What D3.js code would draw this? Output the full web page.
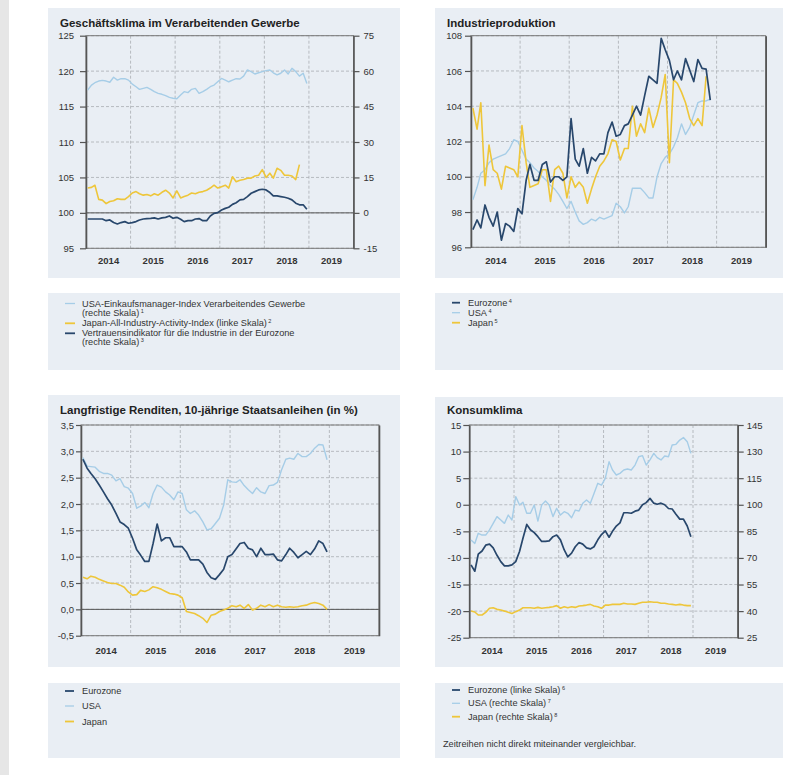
<!DOCTYPE html>
<html>
<head>
<meta charset="utf-8">
<script src="https://cdn.jsdelivr.net/npm/d3@7"></script>
<style>
  body { margin: 0; background: #fff; }
  svg { display: block; font-family: "Liberation Sans", Arial, sans-serif; }
</style>
</head>
<body>
<svg id="chart" width="794" height="775"></svg>
<script>
// ---- data (monthly, starting Jan 2014) ----
const yearLabels = ["2014", "2015", "2016", "2017", "2018", "2019"];

// Geschäftsklima
const gkUSA = [52.0, 54.1, 55.1, 55.8, 56.1, 55.8, 55.3, 57.4, 56.2, 56.8, 56.8, 56.2,
  54.5, 53.4, 52.3, 52.7, 53.1, 52.3, 51.3, 50.6, 50.2, 49.6, 48.9, 48.5,
  48.3, 49.9, 51.3, 50.9, 52.3, 52.7, 50.6, 51.3, 52.3, 53.4, 54.1, 55.5,
  56.9, 56.2, 55.5, 56.2, 56.8, 56.7, 57.9, 60.5, 59.8, 58.8, 59.3, 59.8,
  60.2, 60.5, 59.3, 58.4, 59.1, 60.5, 58.8, 61.2, 59.8, 57.9, 59.1, 54.8];
const gkJapan = [103.5, 103.6, 103.9, 101.9, 101.8, 101.3, 101.6, 101.7, 102.0, 101.9, 101.9, 102.3,
  102.8, 103.0, 102.7, 102.5, 102.6, 102.4, 102.7, 102.5, 102.9, 103.2, 102.8, 102.1,
  103.1, 102.1, 102.3, 102.5, 102.8, 102.7, 102.9, 103.0, 103.2, 103.5, 103.9, 103.5,
  103.7, 103.9, 103.5, 105.1, 104.4, 104.6, 104.7, 104.9, 104.9, 105.2, 105.3, 106.1,
  105.0, 105.6, 104.9, 106.3, 106.0, 105.3, 105.3, 105.2, 104.7, 106.8];
const gkEuro = [-2.6, -2.6, -2.6, -2.6, -2.6, -3.3, -3.0, -4.1, -4.7, -4.1, -3.7, -4.4,
  -4.1, -3.7, -3.0, -2.6, -2.4, -2.3, -2.1, -2.6, -2.1, -1.9, -1.3, -2.3,
  -1.9, -2.7, -3.7, -3.3, -3.3, -2.6, -2.4, -3.3, -3.3, -1.3, -0.2, 0.1,
  1.2, 1.9, 2.4, 3.6, 4.3, 5.5, 5.7, 6.9, 8.3, 9.0, 9.7, 10.0,
  9.7, 8.6, 7.2, 7.2, 6.9, 6.6, 6.2, 5.5, 4.1, 3.4, 3.4, 1.5];

// Industrieproduktion
const ipEuro = [97.0, 97.55, 97.1, 98.4, 97.7, 97.2, 98.0, 96.4, 97.35, 97.2, 96.9, 98.2,
  97.9, 99.8, 100.7, 99.8, 99.8, 100.7, 100.85, 99.7, 100.0, 100.0, 99.8, 100.0,
  103.3, 101.0, 100.6, 101.6, 100.2, 101.1, 100.9, 101.3, 101.3, 102.5, 103.1, 102.3,
  102.4, 102.9, 103.0, 103.5, 104.0, 103.5, 104.6, 105.7, 105.5, 105.3, 107.85, 107.2,
  106.6, 105.5, 106.0, 105.5, 106.7, 106.05, 105.4, 106.65, 106.15, 106.1, 104.35];
const ipUSA = [98.7, 99.4, 100.2, 100.4, 100.8, 101.0, 101.1, 101.2, 101.3, 101.6, 102.1, 102.0,
  101.5, 101.0, 100.8, 100.5, 100.3, 100.0, 99.8, 99.5, 99.3, 99.0, 98.6, 98.2,
  98.6, 98.0, 97.5, 97.3, 97.4, 97.6, 97.5, 97.7, 97.6, 97.7, 97.8, 98.5,
  98.3, 97.95, 98.3, 99.35, 99.35, 99.35, 99.1, 98.8, 98.8, 100.0, 100.75, 101.1,
  101.3, 101.7, 102.2, 103.0, 102.4, 102.8, 103.5, 104.2, 104.3, 104.3, 104.4];
const ipJapan = [103.9, 102.7, 104.2, 99.5, 101.8, 100.4, 100.2, 99.3, 100.6, 100.5, 100.4, 100.0,
  102.9, 100.8, 99.4, 99.5, 99.6, 100.4, 100.4, 98.6, 100.4, 100.6, 100.2, 98.8,
  100.0, 99.4, 99.7, 99.4, 98.5, 99.3, 100.0, 100.6, 100.9, 101.3, 102.1, 102.0,
  100.95, 101.6, 101.6, 104.0, 102.3, 103.0, 102.5, 103.9, 102.8, 103.5, 104.5, 105.8,
  100.8, 105.5, 105.3, 104.8, 104.2, 103.3, 102.9, 103.3, 102.9, 105.7];

// Renditen
const yEuro = [2.85, 2.68, 2.58, 2.48, 2.36, 2.23, 2.10, 1.98, 1.82, 1.66, 1.61, 1.54,
  1.35, 1.13, 1.03, 0.91, 0.91, 1.25, 1.62, 1.30, 1.36, 1.36, 1.19, 1.19,
  1.19, 1.09, 0.94, 0.94, 0.94, 0.86, 0.70, 0.60, 0.57, 0.66, 0.76, 1.00,
  1.04, 1.15, 1.25, 1.27, 1.16, 1.13, 1.00, 1.16, 1.04, 1.04, 1.05, 0.94,
  0.92, 1.04, 1.16, 1.08, 0.98, 1.04, 1.10, 1.04, 1.15, 1.30, 1.25, 1.09];
const yUSA = [2.88, 2.72, 2.71, 2.70, 2.62, 2.58, 2.58, 2.55, 2.44, 2.48, 2.33, 2.30,
  2.20, 1.92, 1.96, 2.03, 1.93, 2.20, 2.36, 2.32, 2.23, 2.17, 2.08, 2.23,
  2.20, 1.89, 1.82, 1.87, 1.79, 1.66, 1.51, 1.53, 1.63, 1.73, 1.98, 2.46,
  2.42, 2.41, 2.46, 2.35, 2.27, 2.20, 2.31, 2.23, 2.20, 2.35, 2.36, 2.41,
  2.65, 2.85, 2.87, 2.85, 2.96, 2.90, 2.90, 2.96, 3.06, 3.13, 3.12, 2.84];
const yJapan = [0.61, 0.58, 0.63, 0.61, 0.57, 0.54, 0.51, 0.49, 0.49, 0.46, 0.42, 0.33,
  0.27, 0.28, 0.36, 0.34, 0.37, 0.43, 0.41, 0.38, 0.34, 0.30, 0.29, 0.27,
  0.22, -0.04, -0.06, -0.08, -0.12, -0.17, -0.25, -0.11, -0.09, -0.04, -0.01, 0.02,
  0.07, 0.05, 0.08, 0.02, 0.09, -0.01, 0.02, 0.08, 0.05, 0.09, 0.05, 0.08,
  0.05, 0.04, 0.05, 0.04, 0.05, 0.07, 0.08, 0.11, 0.13, 0.11, 0.08, 0.00];

// Konsumklima
const kEuro = [-11.3, -12.5, -9.3, -8.7, -7.6, -7.4, -8.1, -9.5, -10.7, -11.5, -11.5, -11.3,
  -10.7, -8.8, -6.3, -3.7, -4.7, -5.25, -6.0, -6.9, -6.9, -6.8, -6.0, -5.7,
  -6.6, -8.5, -9.8, -9.1, -7.9, -7.1, -7.4, -8.1, -8.3, -7.9, -6.6, -5.6,
  -4.9, -6.1, -5.0, -4.0, -3.4, -1.5, -1.5, -1.6, -1.2, -1.0, 0.0, 0.4,
  1.2, 0.3, 0.1, 0.3, 0.0, -0.7, -0.8, -1.8, -2.7, -2.7, -4.0, -6.0];
const kUSA = [80.1, 78.2, 83.9, 82.9, 82.9, 85.8, 89.5, 93.3, 91.4, 89.5, 94.2, 91.4,
  104.6, 99.9, 101.4, 95.2, 95.2, 99.9, 90.8, 99.9, 102.1, 99.9, 93.3, 98.0,
  94.2, 96.1, 95.2, 92.7, 97.0, 96.5, 100.8, 102.7, 100.8, 106.4, 112.1, 111.1,
  114.9, 124.3, 119.6, 116.8, 117.7, 119.6, 120.2, 119.6, 122.4, 127.1, 127.7, 122.4,
  125.3, 129.0, 126.6, 125.3, 127.5, 127.1, 133.7, 134.1, 136.5, 137.9, 135.6, 129.0];
const kJapan = [40.1, 39.5, 37.8, 37.8, 39.3, 41.6, 41.9, 41.0, 40.6, 40.0, 39.3, 38.7,
  39.7, 40.6, 41.9, 41.9, 41.9, 41.6, 42.1, 41.6, 41.9, 42.1, 42.5, 43.1,
  41.6, 42.5, 41.9, 42.5, 42.1, 42.9, 43.1, 43.4, 43.8, 42.9, 42.5, 41.6,
  43.4, 43.4, 43.8, 43.8, 43.8, 44.4, 44.0, 44.0, 43.8, 44.4, 45.0, 45.0,
  45.3, 45.0, 45.0, 44.4, 44.4, 44.0, 43.8, 43.4, 43.8, 43.4, 43.1, 43.1];

// ---- style ----
const BG = "#e9eef4";
const TXT = "#333";
const DARK = "#28476c";
const LIGHT = "#a6cde7";
const YELLOW = "#eec63a";

const de = d3.formatLocale({decimal: ",", thousands: ".", grouping: [3], currency: ["", " €"], minus: "-"});

const svg = d3.select("#chart");
svg.append("rect").attr("x", 0).attr("y", 0).attr("width", 9).attr("height", 775).attr("fill", "#e6e6e6");

function panel(c) {
  const g = svg.append("g");
  g.append("rect").attr("x", c.box[0]).attr("y", c.box[1])
    .attr("width", c.box[2]).attr("height", c.box[3]).attr("fill", BG);
  g.append("text").attr("x", c.box[0] + 12).attr("y", c.titleY)
    .attr("font-size", 11.5).attr("font-weight", "bold").attr("fill", "#222")
    .text(c.title);

  const x = d3.scaleTime().domain([new Date(2014, 0, 1), new Date(2020, 0, 1)]).range([c.l, c.r]);
  const yL = d3.scaleLinear().domain(c.leftDomain).range([c.b, c.t]);
  const yR = c.rightDomain ? d3.scaleLinear().domain(c.rightDomain).range([c.b, c.t]) : yL;

  // grid
  g.append("g").selectAll("line").data(c.leftTicks).join("line")
    .attr("x1", c.l).attr("x2", c.r)
    .attr("y1", d => yL(d)).attr("y2", d => yL(d))
    .attr("stroke", "#a9adb3").attr("stroke-width", 0.8).attr("stroke-dasharray", "3,2");
  g.append("g").selectAll("line").data(d3.timeYear.range(new Date(2015, 0, 1), new Date(2020, 0, 1))).join("line")
    .attr("x1", d => x(d)).attr("x2", d => x(d))
    .attr("y1", c.t).attr("y2", c.b)
    .attr("stroke", "#a9adb3").attr("stroke-width", 0.8).attr("stroke-dasharray", "3,2");
  if (c.zero != null) {
    g.append("line").attr("x1", c.l).attr("x2", c.r)
      .attr("y1", yL(c.zero)).attr("y2", yL(c.zero))
      .attr("stroke", "#555").attr("stroke-width", 1);
  }

  // frame
  g.append("rect").attr("x", c.l).attr("y", c.t).attr("width", c.r - c.l).attr("height", c.b - c.t)
    .attr("fill", "none").attr("stroke", "#777").attr("stroke-width", 1);

  // axes
  const left = g.append("g").attr("transform", `translate(${c.l},0)`)
    .call(d3.axisLeft(yL).tickValues(c.leftTicks).tickSize(c.tick).tickSizeOuter(0)
      .tickPadding(c.padL).tickFormat(c.fmt));
  const right = g.append("g").attr("transform", `translate(${c.r},0)`)
    .call(d3.axisRight(yR).tickValues(c.rightTicks || []).tickSize(c.tick).tickSizeOuter(0)
      .tickPadding(c.padR).tickFormat(c.fmtR || c.fmt));
  [left, right].forEach(a => {
    a.select(".domain").attr("stroke", "#555").attr("stroke-width", 1.6);
    a.selectAll(".tick line").attr("stroke", "#555").attr("stroke-width", 1.2);
    a.selectAll("text").attr("font-size", 9.5).attr("fill", TXT).attr("font-family", null);
  });
  const years = g.append("g").attr("transform", `translate(0,${c.b})`)
    .call(d3.axisBottom(x).tickValues(yearLabels.map(y => new Date(+y, 6, 1)))
      .tickSize(0).tickPadding(c.yearPad).tickFormat(d3.timeFormat("%Y")));
  years.select(".domain").remove();
  years.selectAll("text").attr("font-size", 9.5).attr("font-weight", "bold").attr("fill", TXT).attr("font-family", null);

  // series
  c.series.forEach(s => {
    const y = s.axis === "right" ? yR : yL;
    const line = d3.line().x((d, i) => x(new Date(2014, i, 15))).y(d => y(d));
    g.append("path").datum(s.values).attr("d", line)
      .attr("fill", "none").attr("stroke", s.color).attr("stroke-width", s.width)
      .attr("stroke-linejoin", "round");
  });
}

function legend(c) {
  const g = svg.append("g");
  g.append("rect").attr("x", c.box[0]).attr("y", c.box[1])
    .attr("width", c.box[2]).attr("height", c.box[3]).attr("fill", BG);
  c.items.forEach(it => {
    if (it.color) {
      g.append("line").attr("x1", c.sx).attr("x2", c.sx + c.sw)
        .attr("y1", it.y).attr("y2", it.y)
        .attr("stroke", it.color).attr("stroke-width", it.w || 1.8);
    }
    it.lines.forEach((ln, k) => {
      const t = g.append("text").attr("x", it.tx || c.tx).attr("y", it.y + 3 + k * c.lh)
        .attr("font-size", 9.2).attr("fill", TXT);
      t.append("tspan").text(ln);
      if (it.sup && k === it.lines.length - 1) {
        t.append("tspan").attr("dy", -3).attr("font-size", 5.5).text(" " + it.sup);
      }
    });
  });
}

panel({
  box: [48, 8, 352, 270], title: "Geschäftsklima im Verarbeitenden Gewerbe", titleY: 27,
  l: 86, r: 353.5, t: 35.7, b: 248.3,
  leftDomain: [95, 125], leftTicks: [95, 100, 105, 110, 115, 120, 125],
  rightDomain: [-15, 75], rightTicks: [-15, 0, 15, 30, 45, 60, 75],
  fmt: de.format("d"), tick: 6, padL: 6, padR: 4, yearPad: 9, zero: 100,
  series: [
    {values: gkUSA, color: LIGHT, width: 1.4, axis: "right"},
    {values: gkJapan, color: YELLOW, width: 1.6, axis: "left"},
    {values: gkEuro, color: DARK, width: 1.7, axis: "right"}
  ]
});

panel({
  box: [435, 8, 348, 270], title: "Industrieproduktion", titleY: 27,
  l: 471, r: 765.7, t: 35.7, b: 247.3,
  leftDomain: [96, 108], leftTicks: [96, 98, 100, 102, 104, 106, 108],
  fmt: de.format("d"), tick: 6, padL: 3, padR: 3, yearPad: 10, zero: null,
  series: [
    {values: ipUSA, color: LIGHT, width: 1.4},
    {values: ipJapan, color: YELLOW, width: 1.6},
    {values: ipEuro, color: DARK, width: 1.7}
  ]
});

panel({
  box: [48, 395, 352, 272], title: "Langfristige Renditen, 10-jährige Staatsanleihen (in %)", titleY: 414,
  l: 81, r: 379, t: 425, b: 635.7,
  leftDomain: [-0.5, 3.5], leftTicks: [-0.5, 0, 0.5, 1, 1.5, 2, 2.5, 3, 3.5],
  fmt: de.format(".1f"), tick: 5, padL: 2, padR: 3, yearPad: 12, zero: 0,
  series: [
    {values: yUSA, color: LIGHT, width: 1.4},
    {values: yJapan, color: YELLOW, width: 1.6},
    {values: yEuro, color: DARK, width: 1.7}
  ]
});

panel({
  box: [435, 397, 348, 270], title: "Konsumklima", titleY: 414,
  l: 469.3, r: 737.7, t: 425, b: 637.7,
  leftDomain: [-25, 15], leftTicks: [-25, -20, -15, -10, -5, 0, 5, 10, 15],
  rightDomain: [25, 145], rightTicks: [25, 40, 55, 70, 85, 100, 115, 130, 145],
  fmt: de.format("d"), tick: 6, padL: 2, padR: 3, yearPad: 10, zero: null,
  series: [
    {values: kUSA, color: LIGHT, width: 1.4, axis: "right"},
    {values: kJapan, color: YELLOW, width: 1.6, axis: "right"},
    {values: kEuro, color: DARK, width: 1.7, axis: "left"}
  ]
});

legend({
  box: [48, 293, 352, 77], sx: 65, sw: 10, tx: 82, lh: 9,
  items: [
    {color: LIGHT, w: 1.3, y: 303.5, lines: ["USA-Einkaufsmanager-Index Verarbeitendes Gewerbe", "(rechte Skala)"], sup: "1"},
    {color: YELLOW, y: 323.3, lines: ["Japan-All-Industry-Activity-Index (linke Skala)"], sup: "2"},
    {color: DARK, y: 333.3, lines: ["Vertrauensindikator für die Industrie in der Eurozone", "(rechte Skala)"], sup: "3"}
  ]
});

legend({
  box: [435, 293, 348, 77], sx: 452, sw: 8, tx: 468, lh: 9,
  items: [
    {color: DARK, y: 302.7, lines: ["Eurozone"], sup: "4"},
    {color: LIGHT, w: 1.3, y: 312.7, lines: ["USA"], sup: "4"},
    {color: YELLOW, y: 322.7, lines: ["Japan"], sup: "5"}
  ]
});

legend({
  box: [48, 683, 352, 75], sx: 65, sw: 9, tx: 82, lh: 9,
  items: [
    {color: DARK, y: 691, lines: ["Eurozone"]},
    {color: LIGHT, w: 1.3, y: 706, lines: ["USA"]},
    {color: YELLOW, y: 721.5, lines: ["Japan"]}
  ]
});

legend({
  box: [435, 683, 348, 75], sx: 452, sw: 8, tx: 468, lh: 9,
  items: [
    {color: DARK, y: 690, lines: ["Eurozone (linke Skala)"], sup: "6"},
    {color: LIGHT, w: 1.3, y: 703.3, lines: ["USA (rechte Skala)"], sup: "7"},
    {color: YELLOW, y: 716.7, lines: ["Japan (rechte Skala)"], sup: "8"},
    {y: 744, tx: 443, lines: ["Zeitreihen nicht direkt miteinander vergleichbar."]}
  ]
});
</script>
</body>
</html>
